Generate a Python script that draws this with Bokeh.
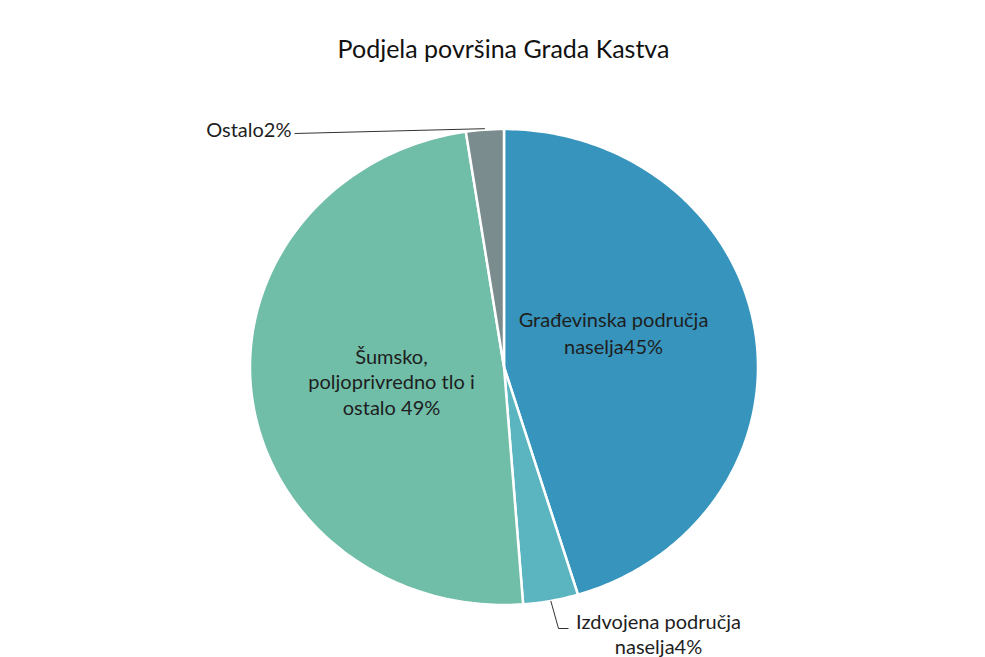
import numpy as np
from bokeh.plotting import figure
from bokeh.models import Range1d
from bokeh.core.properties import value
from bokeh.embed import file_html
from bokeh.resources import INLINE

# ---- data ----
title = "Podjela površina Grada Kastva"
categories = ["Građevinska područja naselja", "Izdvojena područja naselja",
              "Šumsko, poljoprivredno tlo i ostalo", "Ostalo"]
shares = [45.3, 3.5, 48.8, 2.4]
labels = ["Građevinska područja\nnaselja45%", "Izdvojena područja\nnaselja4%",
          "Šumsko,\npoljoprivredno tlo i\nostalo 49%", "Ostalo2%"]
colors = ["#3795bd", "#5bb5c1", "#70bda8", "#7a8c8e"]

# ---- layout ----
W, H = 985, 657
def X(ix): return ix
def Y(iy): return H - iy

cx, cy = X(503.5), Y(366.5)
rx, ry = 254, 238
FONT = "Lato"
TXT = "#1e1e1e"
LBL = "20px"

p = figure(width=W, height=H, output_backend="svg", toolbar_location=None,
           x_range=Range1d(0, W), y_range=Range1d(0, H), min_border=0,
           background_fill_color="white", border_fill_color="white")
p.axis.visible = False
p.grid.visible = False
p.outline_line_color = None

vals = np.array(shares, dtype=float)
frac = vals / vals.sum()
ends = np.cumsum(frac) * 2 * np.pi
starts = ends - frac * 2 * np.pi

xs, ys = [], []
for a0, a1 in zip(starts, ends):
    t = np.linspace(a0, a1, max(3, int((a1 - a0) * 60)))
    xs.append(np.concatenate([[cx], cx + rx * np.sin(t), [cx]]))
    ys.append(np.concatenate([[cy], cy + ry * np.cos(t), [cy]]))

p.patches(xs=xs, ys=ys, fill_color=colors, line_color="white", line_width=2.5,
          line_join="miter")

mid = (starts + ends) / 2

def put_lines(text, x, y, align="center", size=LBL, lh=25.5):
    lines = text.split("\n")
    n = len(lines)
    yy = [y + (n - 1) / 2 * lh - i * lh for i in range(n)]
    p.text(x=[x] * n, y=yy, text=lines, text_align=align, text_baseline="middle",
           text_font=value(FONT), text_font_size=size, text_color=TXT)

# inside labels
put_lines(labels[0], X(613), Y(331.5), lh=27)
put_lines(labels[2], X(391), Y(380.5), lh=25.5)

# Ostalo leader + label
ox, oy = cx + rx * np.sin(mid[3]), cy + ry * np.cos(mid[3])
p.line([ox, X(294)], [oy + 1, Y(133)], line_color="#333333", line_width=1)
put_lines(labels[3], X(291), Y(128), align="right")

# Izdvojena leader + label
ix, iy = cx + rx * np.sin(mid[1]), cy + ry * np.cos(mid[1])
p.line([ix, X(558), X(568)], [iy, Y(628), Y(628)], line_color="#333333", line_width=1)
put_lines(labels[1], X(658), Y(632.5), lh=25)

# title
p.text(x=[X(503)], y=[Y(47)], text=[title], text_align="center", text_baseline="middle",
       text_font=value(FONT), text_font_size="25px", text_color="#111111")

open("out.html", "w").write(file_html(p, INLINE))
